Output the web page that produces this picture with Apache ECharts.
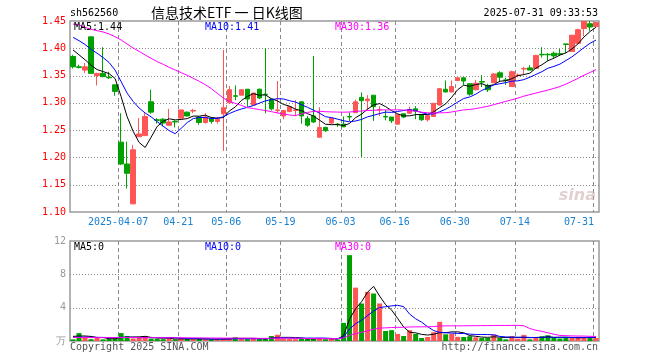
<!DOCTYPE html>
<html><head><meta charset="utf-8">
<script src="https://cdn.jsdelivr.net/npm/echarts@6/dist/echarts.min.js"></script>
<style>html,body{margin:0;padding:0;background:#fff}#c{width:660px;height:360px}</style>
</head><body><div id="c"></div>
<script>
// ---- data ----
const dates = [
'2025-03-25','2025-03-26','2025-03-27','2025-03-28','2025-03-31','2025-04-01','2025-04-02','2025-04-03',
'2025-04-07','2025-04-08','2025-04-09','2025-04-10','2025-04-11','2025-04-14','2025-04-15','2025-04-16','2025-04-17','2025-04-18',
'2025-04-21','2025-04-22','2025-04-23','2025-04-24','2025-04-25','2025-04-28','2025-04-29','2025-04-30',
'2025-05-06','2025-05-07','2025-05-08','2025-05-09','2025-05-12','2025-05-13','2025-05-14','2025-05-15','2025-05-16',
'2025-05-19','2025-05-20','2025-05-21','2025-05-22','2025-05-23','2025-05-26','2025-05-27','2025-05-28','2025-05-29','2025-05-30',
'2025-06-03','2025-06-04','2025-06-05','2025-06-06','2025-06-09','2025-06-10','2025-06-11','2025-06-12','2025-06-13',
'2025-06-16','2025-06-17','2025-06-18','2025-06-19','2025-06-20','2025-06-23','2025-06-24','2025-06-25','2025-06-26','2025-06-27',
'2025-06-30','2025-07-01','2025-07-02','2025-07-03','2025-07-04','2025-07-07','2025-07-08','2025-07-09','2025-07-10','2025-07-11',
'2025-07-14','2025-07-15','2025-07-16','2025-07-17','2025-07-18','2025-07-21','2025-07-22','2025-07-23','2025-07-24','2025-07-25',
'2025-07-28','2025-07-29','2025-07-30','2025-07-31'];
const opens = [
1.385,1.366,1.360,1.421,1.350,1.354,1.347,1.333,1.228,1.188,
1.115,1.238,1.240,1.302,1.269,1.270,1.259,1.266,1.272,1.283,
1.285,1.274,1.264,1.272,1.266,1.280,1.300,1.313,1.314,1.325,
1.296,1.325,1.316,1.307,1.286,1.276,1.284,1.286,1.302,1.271,
1.276,1.237,1.255,1.263,1.261,1.261,1.275,1.282,1.310,1.304,
1.314,1.287,1.275,1.274,1.261,1.280,1.281,1.289,1.278,1.269,
1.275,1.296,1.325,1.320,1.341,1.346,1.335,1.324,1.339,1.332,
1.337,1.355,1.342,1.330,1.350,1.362,1.364,1.363,1.389,1.389,
1.391,1.390,1.408,1.394,1.409,1.436,1.445,1.440];
const closes = [
1.366,1.365,1.366,1.354,1.354,1.348,1.346,1.321,1.188,1.171,
1.214,1.243,1.275,1.283,1.268,1.263,1.265,1.265,1.287,1.276,
1.286,1.264,1.274,1.266,1.270,1.291,1.324,1.312,1.324,1.307,
1.318,1.309,1.315,1.289,1.287,1.286,1.293,1.287,1.276,1.259,
1.265,1.255,1.249,1.272,1.260,1.256,1.274,1.302,1.304,1.307,
1.293,1.2875,1.274,1.267,1.278,1.274,1.288,1.285,1.269,1.277,
1.299,1.326,1.320,1.330,1.346,1.340,1.316,1.336,1.338,1.324,
1.353,1.347,1.341,1.357,1.351,1.363,1.360,1.387,1.388,1.388,
1.386,1.389,1.407,1.424,1.434,1.449,1.439,1.447];
const lows = [
1.363,1.363,1.355,1.354,1.332,1.347,1.344,1.313,1.186,1.143,
1.114,1.238,1.240,1.280,1.262,1.257,1.259,1.255,1.272,1.275,
1.281,1.260,1.262,1.262,1.262,1.212,1.300,1.305,1.314,1.293,
1.296,1.307,1.281,1.286,1.281,1.270,1.283,1.276,1.262,1.256,
1.263,1.236,1.247,1.261,1.256,1.256,1.267,1.282,1.201,1.286,
1.267,1.276,1.268,1.263,1.260,1.272,1.280,1.270,1.267,1.266,
1.274,1.295,1.319,1.319,1.340,1.333,1.313,1.323,1.329,1.320,
1.336,1.338,1.333,1.329,1.347,1.351,1.360,1.362,1.383,1.377,
1.382,1.386,1.391,1.394,1.408,1.422,1.432,1.440];
const highs = [
1.388,1.370,1.373,1.421,1.355,1.402,1.357,1.334,1.281,1.229,
1.223,1.272,1.281,1.324,1.272,1.272,1.289,1.268,1.288,1.284,
1.289,1.275,1.281,1.274,1.274,1.397,1.331,1.332,1.325,1.325,
1.318,1.326,1.400,1.307,1.340,1.287,1.294,1.305,1.302,1.276,
1.386,1.292,1.256,1.274,1.263,1.275,1.282,1.306,1.319,1.314,
1.314,1.294,1.287,1.274,1.279,1.280,1.293,1.294,1.279,1.278,
1.300,1.327,1.341,1.341,1.346,1.346,1.335,1.342,1.351,1.335,
1.354,1.358,1.346,1.359,1.354,1.366,1.369,1.388,1.402,1.391,
1.394,1.399,1.408,1.424,1.436,1.450,1.450,1.448];
// volume (万)
const volumes = [
0.20,0.95,0.36,0.22,0.36,0.20,0.25,0.30,0.95,0.60,
0.30,0.35,0.60,0.30,0.25,0.22,0.28,0.20,0.30,0.25,
0.22,0.28,0.20,0.18,0.22,0.30,0.35,0.45,0.25,0.22,
0.30,0.25,0.30,0.60,0.75,0.28,0.25,0.22,0.30,0.25,
0.28,0.35,0.20,0.25,0.18,2.18,10.3,6.4,4.5,5.9,
5.7,4.5,1.2,1.3,0.85,0.6,1.3,0.85,0.36,0.48,
1.05,2.3,0.8,0.85,0.5,0.48,0.57,0.44,0.36,0.36,
0.77,0.36,0.2,0.57,0.28,0.73,0.2,0.36,0.57,0.69,
0.36,0.3,0.36,0.4,0.45,0.5,0.35,0.35];
// moving-average values before the window is full
const ma5Head = [1.397,1.388,1.379,1.369];
const ma10Head = [1.420,1.414,1.407,1.398,1.391,1.383,1.374,1.360,1.339];
const ma30Head = [1.4445,1.4427,1.4384,1.4347,1.4323,1.4299,1.4262,1.4213,1.4152,1.4079,
1.4005,1.3944,1.3877,1.3816,1.3755,1.3706,1.3651,1.3602,1.3553,1.3505,
1.3450,1.3395,1.3334,1.3260,1.3175,1.3089,1.3028,1.2991,1.2955];
const vma5Head = [0.55,0.60,0.60,0.55];
const vma10Head = [0.45,0.46,0.46,0.45,0.44,0.43,0.42,0.42,0.45];
const vma30Head = [0.42,0.42,0.42,0.42,0.41,0.41,0.41,0.41,0.42,0.42,
0.41,0.41,0.41,0.40,0.40,0.40,0.39,0.39,0.39,0.38,
0.38,0.37,0.37,0.36,0.36,0.35,0.35,0.35,0.34];
const labelIdx = [8,18,26,35,45,54,64,74,87];
const priceTicks = [1.15,1.20,1.25,1.30,1.35,1.40];
const volTicks = [0,4,8,12];
const maTexts = ['MA5:1.44','MA10:1.41','MA30:1.36'];
const volMaTexts = ['MA5:0','MA10:0','MA30:0'];

function ma(vals, n, head){
  return vals.map((v,i)=>{
    if(i < n-1) return head[i];
    let s=0; for(let k=i-n+1;k<=i;k++) s+=vals[k];
    return +(s/n).toFixed(4);
  });
}
const RED='#ff5555', GREEN='#00a000';
const MONO='"DejaVu Sans Mono", "Liberation Mono", monospace';
const GRIDC='#8a8a8a';
const isUp = dates.map((d,i)=> closes[i] > opens[i] || (closes[i]===opens[i] && (i===0 || closes[i]>=closes[i-1])));

const chart = echarts.init(document.getElementById('c'));
const xLabelFmt = (v,i)=>{ const s = i===8 ? v : v.slice(5); return i===87 ? '{e|'+s+'}' : '{n|'+s+'}'; };

// grid lines drawn through the axes' scales (left boundary of each labelled day, and at value ticks)
function gridLines(gi, yMin, yMax, hVals){
  return {type:'custom', xAxisIndex:gi, yAxisIndex:gi, silent:true, z:1, clip:false,
    data: [[0]],
    renderItem:(params, api)=>{
      const cs = params.coordSys;
      const w = api.size([1,0])[0];
      const kids = [];
      labelIdx.forEach(i=>{
        const p = api.coord([i, yMin]);
        const x = Math.round(p[0] - w/2) + 0.5;
        kids.push({type:'line', shape:{x1:x, y1:cs.y, x2:x, y2:cs.y+cs.height},
          style:{stroke:GRIDC, lineWidth:1, lineDash:[4,3]}});
      });
      hVals.forEach(v=>{
        const y = Math.round(api.coord([0, v])[1]) + 0.5;
        kids.push({type:'line', shape:{x1:cs.x, y1:y, x2:cs.x+cs.width, y2:y},
          style:{stroke:GRIDC, lineWidth:1, lineDash:[1,2]}});
      });
      return {type:'group', children:kids};
    }};
}
function txt(text,x,y,fill,opt){
  return {type:'text', silent:true, z:100, style:Object.assign({text, x, y, fill, font:'10px '+MONO, textAlign:'left', textVerticalAlign:'middle'}, opt||{})};
}
const option = {
  animation:false,
  backgroundColor:'#fff',
  grid:[
    {left:70, top:21, width:529, height:191, show:true, borderColor:'#9a9a9a', borderWidth:1.5},
    {left:70, top:241, width:529, height:100, show:true, borderColor:'#9a9a9a', borderWidth:1.5}
  ],
  xAxis:[
    {gridIndex:0, type:'category', data:dates, boundaryGap:true,
     axisLine:{show:false}, axisTick:{show:false},
     axisLabel:{interval:(i)=>labelIdx.indexOf(i)>=0, formatter:xLabelFmt, margin:5,
       rich:{n:{color:'#1a80d0', fontFamily:MONO, fontSize:10, padding:[0,6,0,0]},
             e:{color:'#1a80d0', fontFamily:MONO, fontSize:10, padding:[0,34,0,0]}}},
     splitLine:{show:false}},
    {gridIndex:1, type:'category', data:dates, boundaryGap:true,
     axisLine:{show:false}, axisTick:{show:false}, axisLabel:{show:false}, splitLine:{show:false}}
  ],
  yAxis:[
    {gridIndex:0, type:'value', min:1.10, max:1.45, interval:0.05,
     axisLine:{show:false}, axisTick:{show:false},
     axisLabel:{color:'#ff0000', fontFamily:MONO, fontSize:10, margin:4, formatter:v=>v.toFixed(2)},
     splitLine:{show:false}},
    {gridIndex:1, type:'value', min:volTicks[0], max:volTicks[3], interval:4,
     axisLine:{show:false}, axisTick:{show:false},
     axisLabel:{color:'#999', fontFamily:MONO, fontSize:10, margin:4, formatter:v=> v===0 ? '万' : String(v)},
     splitLine:{show:false}}
  ],
  series:[
    gridLines(0, 1.10, 1.45, priceTicks),
    gridLines(1, volTicks[0], volTicks[3], [volTicks[1], volTicks[2]]),
    {type:'candlestick', xAxisIndex:0, yAxisIndex:0, barWidth:5, silent:true, z:3,
     data:dates.map((d,i)=>[opens[i],closes[i],lows[i],highs[i]]),
     itemStyle:{color:RED, color0:GREEN, borderColor:RED, borderColor0:GREEN, borderWidth:1}},
    {type:'line', xAxisIndex:0, yAxisIndex:0, data:ma(closes,5,ma5Head), showSymbol:false, silent:true, z:4, lineStyle:{color:'#000', width:1}},
    {type:'line', xAxisIndex:0, yAxisIndex:0, data:ma(closes,10,ma10Head), showSymbol:false, silent:true, z:4, lineStyle:{color:'#0000ff', width:1}},
    {type:'line', xAxisIndex:0, yAxisIndex:0, data:ma(closes,30,ma30Head), showSymbol:false, silent:true, z:4, lineStyle:{color:'#ff00ff', width:1}},
    {type:'bar', xAxisIndex:1, yAxisIndex:1, barWidth:5, silent:true, z:3,
     data:volumes.map((v,i)=>({value:v, itemStyle:{color: isUp[i]?RED:GREEN}}))},
    {type:'line', xAxisIndex:1, yAxisIndex:1, data:ma(volumes,5,vma5Head), showSymbol:false, silent:true, z:4, lineStyle:{color:'#000', width:1}},
    {type:'line', xAxisIndex:1, yAxisIndex:1, data:ma(volumes,10,vma10Head), showSymbol:false, silent:true, z:4, lineStyle:{color:'#0000ff', width:1}},
    {type:'line', xAxisIndex:1, yAxisIndex:1, data:ma(volumes,30,vma30Head), showSymbol:false, silent:true, z:4, lineStyle:{color:'#ff00ff', width:1}}
  ],
  graphic:[
    txt('sh562560',70,13,'#000'),
    txt('信息技术ETF 一 日K线图',151,13,'#000',{font:'14px "Noto Sans CJK SC", sans-serif'}),
    txt('2025-07-31 09:33:53',598,13,'#000',{textAlign:'right'}),
    txt(maTexts[0],74,27,'#000'),
    txt(maTexts[1],205,27,'#0000ff'),
    txt(maTexts[2],335,27,'#ff00ff'),
    txt(volMaTexts[0],74,247,'#000'),
    txt(volMaTexts[1],205,247,'#0000ff'),
    txt(volMaTexts[2],335,247,'#ff00ff'),
    txt('Copyright 2025 SINA.COM',70,347,'#555'),
    txt('http://finance.sina.com.cn',598,347,'#555',{textAlign:'right'}),
    txt('sina',596,196,'rgba(200,170,170,0.55)',{textAlign:'right', font:'italic bold 16px "DejaVu Sans", sans-serif'})
  ]
};
chart.setOption(option);
</script></body></html>
